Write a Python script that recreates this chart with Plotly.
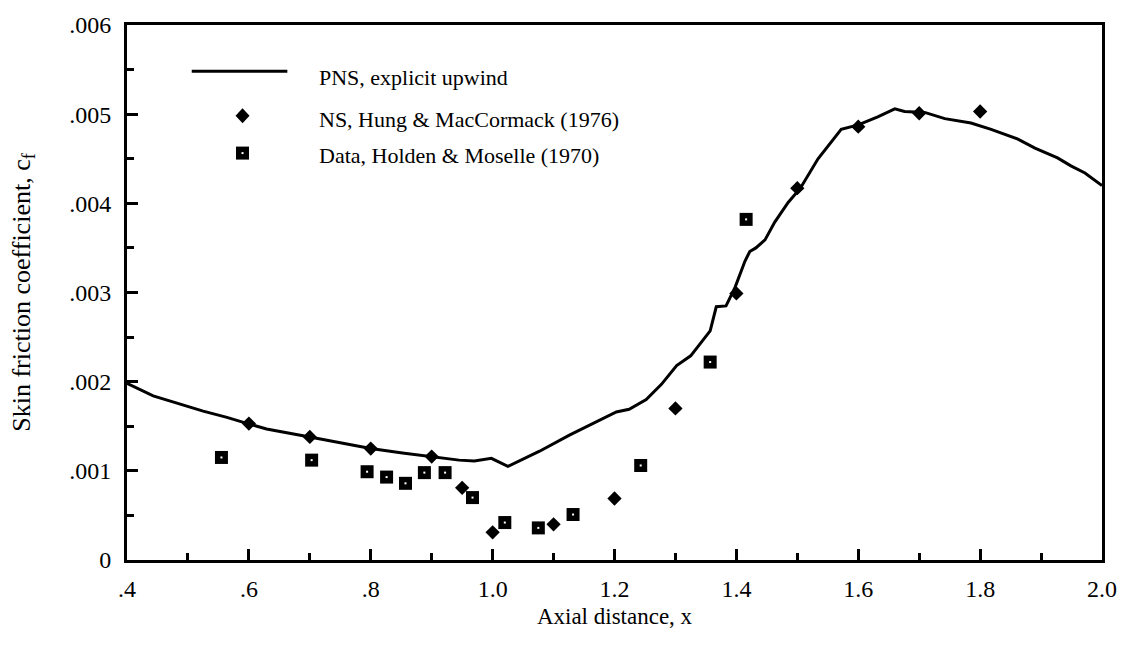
import plotly.graph_objects as go

# PNS, explicit upwind solution
pns_x = [0.400, 0.443, 0.525, 0.564, 0.598, 0.629, 0.700, 0.760, 0.800, 0.852,
         0.900, 0.945, 0.970, 0.998, 1.025, 1.077, 1.126, 1.175, 1.203, 1.224,
         1.252, 1.277, 1.302, 1.325, 1.357, 1.367, 1.383, 1.398, 1.414, 1.422,
         1.432, 1.447, 1.463, 1.485, 1.505, 1.534, 1.572, 1.600, 1.632, 1.660,
         1.676, 1.709, 1.742, 1.785, 1.818, 1.862, 1.890, 1.927, 1.949, 1.972,
         2.000]
pns_cf = [0.00198, 0.00184, 0.00167, 0.00160, 0.00153, 0.00147, 0.00138, 0.00130, 0.00125, 0.00120,
          0.00116, 0.00112, 0.00111, 0.00114, 0.00105, 0.00122, 0.00140, 0.00157, 0.00166, 0.00169,
          0.00180, 0.00197, 0.00218, 0.00229, 0.00257, 0.00284, 0.00285, 0.00306, 0.00335, 0.00346,
          0.00350, 0.00359, 0.00379, 0.00401, 0.00417, 0.00450, 0.00483, 0.00488, 0.00497, 0.00506,
          0.00503, 0.00502, 0.00495, 0.00490, 0.00483, 0.00472, 0.00462, 0.00451, 0.00442, 0.00434,
          0.00420]

# NS, Hung & MacCormack (1976)
ns_x = [0.60, 0.70, 0.80, 0.90, 0.95, 1.00, 1.10, 1.20, 1.30, 1.40, 1.50, 1.60, 1.70, 1.80]
ns_cf = [0.00153, 0.00138, 0.00125, 0.00116, 0.00081, 0.00031, 0.00040, 0.00069, 0.00170,
         0.00299, 0.00417, 0.00486, 0.00501, 0.00503]

# Data, Holden & Moselle (1970)
data_x = [0.555, 0.703, 0.794, 0.826, 0.857, 0.888, 0.922, 0.967, 1.020, 1.075, 1.132,
          1.243, 1.357, 1.416]
data_cf = [0.00115, 0.00112, 0.00099, 0.00093, 0.00086, 0.00098, 0.00098, 0.00070, 0.00042,
           0.00036, 0.00051, 0.00106, 0.00222, 0.00382]

x_tickvals = [0.4, 0.6, 0.8, 1.0, 1.2, 1.4, 1.6, 1.8, 2.0]
x_ticktext = [".4", ".6", ".8", "1.0", "1.2", "1.4", "1.6", "1.8", "2.0"]
y_tickvals = [0, 0.001, 0.002, 0.003, 0.004, 0.005, 0.006]
y_ticktext = ["0", ".001", ".002", ".003", ".004", ".005", ".006"]

legend_labels = ["PNS, explicit upwind",
                 "NS, Hung & MacCormack (1976)",
                 "Data, Holden & Moselle (1970)"]

FONT = "Liberation Serif"
W, H = 1129, 645
M_L, M_R, M_T, M_B = 127, 23, 17, 85
PW, PH = W - M_L - M_R, H - M_T - M_B


def px(xp):
    return (xp - M_L) / PW


def py(yp):
    return 1 - (yp - M_T) / PH


fig = go.Figure()

fig.add_trace(go.Scatter(
    x=pns_x, y=pns_cf, mode="lines",
    line=dict(color="black", width=3), showlegend=False))

fig.add_trace(go.Scatter(
    x=ns_x, y=ns_cf, mode="markers",
    marker=dict(symbol="diamond", size=11, color="black"), showlegend=False))

fig.add_trace(go.Scatter(
    x=data_x, y=data_cf, mode="markers",
    marker=dict(symbol="square", size=13, color="black"), showlegend=False))
# small open centre of the data squares
fig.add_trace(go.Scatter(
    x=data_x, y=data_cf, mode="markers",
    marker=dict(symbol="square", size=2, color="white"), showlegend=False))

# legend block
glyph_y = [64, 109, 147]
text_y = [70, 113, 149]
glyph_x = 243
text_x = 318
shapes = [
    dict(type="line", xref="paper", yref="paper",
         x0=px(192), x1=px(288), y0=py(glyph_y[0]), y1=py(glyph_y[0]),
         line=dict(color="black", width=3)),
    dict(type="path", xref="paper", yref="paper",
         xsizemode="pixel", ysizemode="pixel",
         xanchor=px(glyph_x), yanchor=py(glyph_y[1]),
         path="M 0 7.5 L 7 0 L 0 -7.5 L -7 0 Z",
         fillcolor="black", line=dict(color="black", width=0)),
    dict(type="rect", xref="paper", yref="paper",
         xsizemode="pixel", ysizemode="pixel",
         xanchor=px(glyph_x), yanchor=py(glyph_y[2]),
         x0=-6.5, x1=6.5, y0=-6.5, y1=6.5,
         fillcolor="black", line=dict(color="black", width=0)),
    dict(type="rect", xref="paper", yref="paper",
         xsizemode="pixel", ysizemode="pixel",
         xanchor=px(glyph_x), yanchor=py(glyph_y[2]),
         x0=-1, x1=1, y0=-1, y1=1,
         fillcolor="white", line=dict(color="white", width=0)),
]
annotations = []
for label, yy in zip(legend_labels, text_y):
    annotations.append(dict(
        text=label, xref="paper", yref="paper", x=px(text_x), y=py(yy),
        xanchor="left", yanchor="middle", showarrow=False,
        font=dict(family=FONT, size=22, color="black")))

axis_common = dict(
    showgrid=False, zeroline=False, showline=True, linecolor="black",
    linewidth=3, mirror=True, ticks="inside", ticklen=11, tickwidth=2.5,
    tickcolor="black", tickfont=dict(family=FONT, size=24, color="black"),
)

fig.update_layout(
    width=W, height=H,
    margin=dict(l=M_L, r=M_R, t=M_T, b=M_B),
    paper_bgcolor="white", plot_bgcolor="white",
    shapes=shapes, annotations=annotations,
    xaxis=dict(
        range=[0.4, 2.0], tickmode="array", tickvals=x_tickvals, ticktext=x_ticktext,
        ticklabelstandoff=5,
        minor=dict(ticks="inside", ticklen=7, tickwidth=2.5, tickcolor="black",
                   tick0=0.4, dtick=0.1),
        title=dict(text="Axial distance, x", font=dict(family=FONT, size=23, color="black"),
                   standoff=8),
        **axis_common),
    yaxis=dict(
        range=[0, 0.006], tickmode="array", tickvals=y_tickvals, ticktext=y_ticktext,
        ticklabelstandoff=8,
        minor=dict(ticks="inside", ticklen=7, tickwidth=2.5, tickcolor="black",
                   tick0=0, dtick=0.0005),
        title=dict(text="Skin friction coefficient, c<sub>f</sub>",
                   font=dict(family=FONT, size=26, color="black"), standoff=32),
        **axis_common),
)

fig.write_html("out.html")
